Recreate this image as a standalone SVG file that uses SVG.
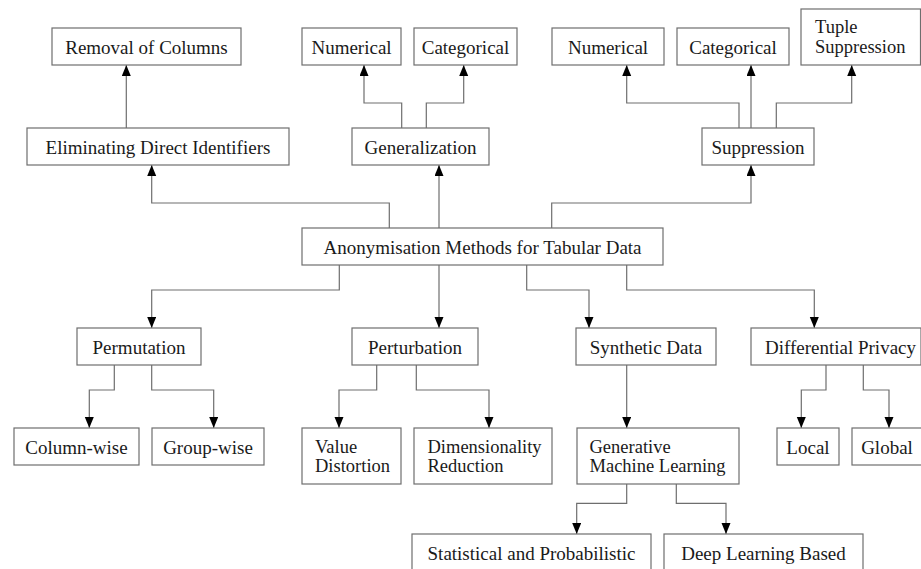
<svg xmlns="http://www.w3.org/2000/svg" width="921" height="569" viewBox="0 0 921 569">
<style>
.box{fill:#fff;stroke:#6e6e6e;stroke-width:1.2}
.t{font-family:"Liberation Serif","Times New Roman",serif;font-size:19px;fill:#1a1a1a}
.t2{font-family:"Liberation Serif","Times New Roman",serif;font-size:18.5px;fill:#1a1a1a}
.c{text-anchor:middle}
.e{fill:none;stroke:#6e6e6e;stroke-width:1.2}
</style>
<defs>
<marker id="ah" markerUnits="userSpaceOnUse" markerWidth="12" markerHeight="10" refX="11" refY="4.5" orient="auto">
<path d="M0,0 L11,4.5 L0,9 z" fill="#000"/>
</marker>
</defs>
<rect width="921" height="569" fill="#fff"/>
<g id="connectors">
<path class="e" marker-end="url(#ah)" d="M126.3,128 V65"/>
<path class="e" marker-end="url(#ah)" d="M389.3,228 V203 H151.7 V165"/>
<path class="e" marker-end="url(#ah)" d="M439,228 V165"/>
<path class="e" marker-end="url(#ah)" d="M551.7,228 V203 H751 V165"/>
<path class="e" marker-end="url(#ah)" d="M401.7,128 V103 H364 V65"/>
<path class="e" marker-end="url(#ah)" d="M426.3,128 V103 H463.7 V65"/>
<path class="e" marker-end="url(#ah)" d="M739,128 V103 H626.7 V65"/>
<path class="e" marker-end="url(#ah)" d="M751,128 V65"/>
<path class="e" marker-end="url(#ah)" d="M776.3,128 V103 H851.7 V65"/>
<path class="e" marker-end="url(#ah)" d="M339.3,265 V290 H151.7 V328"/>
<path class="e" marker-end="url(#ah)" d="M439,265 V328"/>
<path class="e" marker-end="url(#ah)" d="M526.7,265 V290 H589 V328"/>
<path class="e" marker-end="url(#ah)" d="M626.7,265 V290 H814.3 V328"/>
<path class="e" marker-end="url(#ah)" d="M114.3,365 V390 H89.3 V428"/>
<path class="e" marker-end="url(#ah)" d="M151.7,365 V390 H213.7 V428"/>
<path class="e" marker-end="url(#ah)" d="M376.7,365 V390 H339 V428"/>
<path class="e" marker-end="url(#ah)" d="M416.3,365 V390 H489 V428"/>
<path class="e" marker-end="url(#ah)" d="M626.7,365 V428"/>
<path class="e" marker-end="url(#ah)" d="M826,365 V390 H801.3 V428"/>
<path class="e" marker-end="url(#ah)" d="M863.3,365 V390 H889 V428"/>
<path class="e" marker-end="url(#ah)" d="M626.7,484 V503.3 H576.7 V534"/>
<path class="e" marker-end="url(#ah)" d="M676.3,484 V503.3 H726 V534"/>
</g>
<g id="removal"><rect class="box" x="52" y="28" width="189" height="37"/><text class="t c" x="146.5" y="53.5">Removal of Columns</text></g>
<g id="edi"><rect class="box" x="27" y="128" width="262" height="37"/><text class="t c" x="158" y="153.5">Eliminating Direct Identifiers</text></g>
<g id="gen-num"><rect class="box" x="302" y="28" width="99" height="37"/><text class="t c" x="351.5" y="53.5">Numerical</text></g>
<g id="gen-cat"><rect class="box" x="414" y="28" width="103" height="37"/><text class="t c" x="465.5" y="53.5">Categorical</text></g>
<g id="generalization"><rect class="box" x="352" y="128" width="137" height="37"/><text class="t c" x="420.5" y="153.5">Generalization</text></g>
<g id="sup-num"><rect class="box" x="552" y="28" width="112" height="37"/><text class="t c" x="608" y="53.5">Numerical</text></g>
<g id="sup-cat"><rect class="box" x="677" y="28" width="112" height="37"/><text class="t c" x="733" y="53.5">Categorical</text></g>
<g id="tuple"><rect class="box" x="801" y="9" width="119.5" height="56"/><text class="t2" x="815" y="33">Tuple</text><text class="t2" x="815" y="52.5">Suppression</text></g>
<g id="suppression"><rect class="box" x="702" y="128" width="112" height="37"/><text class="t c" x="758" y="153.5">Suppression</text></g>
<g id="main"><rect class="box" x="302" y="228" width="361" height="37"/><text class="t c" x="482.5" y="253.5">Anonymisation Methods for Tabular Data</text></g>
<g id="permutation"><rect class="box" x="77" y="328" width="124" height="37"/><text class="t c" x="139" y="353.5">Permutation</text></g>
<g id="perturbation"><rect class="box" x="352" y="328" width="126" height="37"/><text class="t c" x="415" y="353.5">Perturbation</text></g>
<g id="synthetic"><rect class="box" x="576" y="328" width="140" height="37"/><text class="t c" x="646" y="353.5">Synthetic Data</text></g>
<g id="dp"><rect class="box" x="751" y="328" width="170" height="37"/><text class="t c" x="840.5" y="353.5">Differential Privacy</text></g>
<g id="column-wise"><rect class="box" x="14" y="428" width="125" height="37"/><text class="t c" x="76.5" y="453.5">Column-wise</text></g>
<g id="group-wise"><rect class="box" x="152" y="428" width="112" height="37"/><text class="t c" x="208" y="453.5">Group-wise</text></g>
<g id="value"><rect class="box" x="302" y="428" width="99" height="56"/><text class="t2" x="315" y="452.5">Value</text><text class="t2" x="315" y="472">Distortion</text></g>
<g id="dim"><rect class="box" x="414" y="428" width="138" height="56"/><text class="t2" x="427.5" y="452.5">Dimensionality</text><text class="t2" x="427.5" y="472">Reduction</text></g>
<g id="gml"><rect class="box" x="577" y="428" width="162" height="56"/><text class="t2" x="589.5" y="452.5">Generative</text><text class="t2" x="589.5" y="472">Machine Learning</text></g>
<g id="local"><rect class="box" x="777" y="428" width="62" height="37"/><text class="t c" x="808" y="453.5">Local</text></g>
<g id="global"><rect class="box" x="852" y="428" width="70" height="37"/><text class="t c" x="887" y="453.5">Global</text></g>
<g id="stat"><rect class="box" x="412" y="534" width="239" height="37"/><text class="t c" x="531.5" y="559.5">Statistical and Probabilistic</text></g>
<g id="deep"><rect class="box" x="664" y="534" width="199" height="37"/><text class="t c" x="763.5" y="559.5">Deep Learning Based</text></g>
</svg>
